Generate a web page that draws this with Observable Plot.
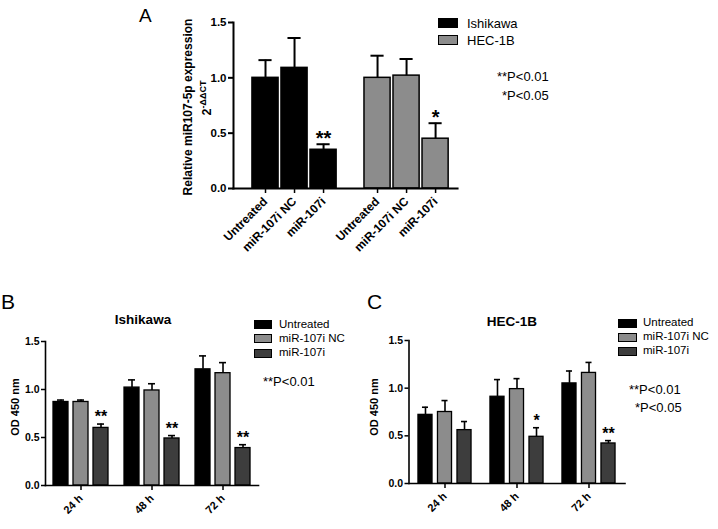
<!DOCTYPE html>
<html><head><meta charset="utf-8">
<script src="https://cdn.jsdelivr.net/npm/d3@7"></script>
<script src="https://cdn.jsdelivr.net/npm/@observablehq/plot@0.6"></script>
<style>
body{margin:0;background:#fff;}
#fig{position:relative;width:718px;height:529px;overflow:hidden;font-family:"Liberation Sans",Arial,sans-serif;color:#000;background:#fff;}
.t{position:absolute;white-space:nowrap;line-height:1;transform:translateY(-50%);}
.rot{position:absolute;white-space:nowrap;line-height:1;transform:translate(-50%,-50%) rotate(-90deg);}
.sw{position:absolute;box-sizing:border-box;border:1.5px solid #000;}
.pan{position:absolute;}
</style></head><body><div id="fig"></div>
<script>
// ---------- data ----------
const treatments = ["Untreated", "miR-107i NC", "miR-107i"];
const cellLines = ["Ishikawa", "HEC-1B"];
const times = ["24 h", "48 h", "72 h"];

// Panel A: relative miR107-5p expression
const ishikawaRelMean = [1.00, 1.09, 0.35];
const ishikawaRelErr  = [0.16, 0.27, 0.05];
const ishikawaRelSig  = ["", "", "**"];
const hec1bRelMean = [1.00, 1.02, 0.45];
const hec1bRelErr  = [0.20, 0.15, 0.14];
const hec1bRelSig  = ["", "", "*"];

// Panel B: Ishikawa OD 450 nm (per time point)
const ishUntreatedMean = [0.87, 1.02, 1.21];
const ishUntreatedErr  = [0.02, 0.08, 0.14];
const ishNCMean = [0.87, 0.99, 1.17];
const ishNCErr  = [0.02, 0.07, 0.11];
const ishMiRMean = [0.60, 0.49, 0.39];
const ishMiRErr  = [0.04, 0.03, 0.035];
const ishMiRSig  = ["**", "**", "**"];

// Panel C: HEC-1B OD 450 nm
const hecUntreatedMean = [0.72, 0.91, 1.05];
const hecUntreatedErr  = [0.08, 0.18, 0.13];
const hecNCMean = [0.75, 0.99, 1.16];
const hecNCErr  = [0.12, 0.11, 0.11];
const hecMiRMean = [0.56, 0.49, 0.42];
const hecMiRErr  = [0.09, 0.095, 0.03];
const hecMiRSig  = ["", "*", "**"];

const yTicks = [0, 0.5, 1.0, 1.5];
const pNotes2 = ["**P<0.01", "*P<0.05"];
const pNotes1 = ["**P<0.01"];

// ---------- build ----------
const fig = document.getElementById("fig");
const font = '"Liberation Sans", Arial, sans-serif';
const treatColors = ["#000000", "#8c8c8c", "#3d3d3d"];
const lineColors = ["#000000", "#8c8c8c"];

function place(node, left, top) {
  const d = document.createElement("div");
  d.className = "pan";
  d.style.left = left + "px"; d.style.top = top + "px";
  d.appendChild(node); fig.appendChild(d);
}
function text(str, left, cy, size, weight) {
  const d = document.createElement("div");
  d.className = "t";
  d.style.left = left + "px"; d.style.top = cy + "px";
  d.style.fontSize = size + "px"; d.style.fontWeight = weight || "normal";
  d.textContent = str; fig.appendChild(d); return d;
}
function ctext(str, cx, cy, size, weight) {
  const d = text(str, cx, cy, size, weight);
  d.style.transform = "translate(-50%,-50%)"; return d;
}
function rtext(html, cx, cy, size, weight) {
  const d = document.createElement("div");
  d.className = "rot";
  d.style.left = cx + "px"; d.style.top = cy + "px";
  d.style.fontSize = size + "px"; d.style.fontWeight = weight || "normal";
  d.innerHTML = html; fig.appendChild(d); return d;
}
function swatch(left, top, w, h, color) {
  const d = document.createElement("div");
  d.className = "sw";
  d.style.left = left + "px"; d.style.top = top + "px";
  d.style.width = w + "px"; d.style.height = h + "px";
  d.style.background = color; fig.appendChild(d);
}

// Panel A rows
const relMeans = [ishikawaRelMean, hec1bRelMean];
const relErrs = [ishikawaRelErr, hec1bRelErr];
const relSigs = [ishikawaRelSig, hec1bRelSig];
const rowsA = cellLines.flatMap((line, li) => treatments.map((treat, i) => ({
  line, treat, mean: relMeans[li][i], err: relErrs[li][i], sig: relSigs[li][i]
})));

const plotA = Plot.plot({
  width: 500, height: 300,
  marginLeft: 233, marginRight: 10, marginTop: 22, marginBottom: 112,
  style: {background: "transparent", overflow: "visible", fontFamily: font, color: "#000"},
  fx: {domain: cellLines, paddingInner: 0, paddingOuter: 0.147, align: 0, round: false, axis: null, label: null},
  x: {domain: treatments, paddingInner: 0.1, paddingOuter: 0.48, align: 0.68, round: false, label: null},
  y: {domain: [0, 1.5], label: null},
  color: {domain: cellLines, range: lineColors},
  marks: [
    Plot.barY(rowsA, {fx: "line", x: "treat", y: "mean", fill: "line", stroke: "#000", strokeWidth: 1.5}),
    Plot.ruleX(rowsA, {fx: "line", x: "treat", y1: "mean", y2: d => d.mean + d.err, stroke: "#000", strokeWidth: 2}),
    Plot.tickY(rowsA, {fx: "line", x: "treat", y: d => d.mean + d.err, stroke: "#000", strokeWidth: 2, insetLeft: 6.5, insetRight: 6.5}),
    Plot.text(rowsA, {fx: "line", x: "treat", y: d => d.mean + d.err, text: "sig", lineAnchor: "bottom", dy: 1, fontSize: 20, fontWeight: "bold", fill: "#000"}),
    Plot.axisY({ticks: yTicks, tickFormat: d3.format(".1f"), tickSize: 5, tickPadding: 2, fontSize: 11.5, fontWeight: "bold", strokeWidth: 2, label: null}),
    Plot.axisX({tickRotate: -45, tickSize: 5, tickPadding: 6, fontSize: 12, fontWeight: "bold", strokeWidth: 1.5, label: null}),
    Plot.frame({anchor: "left", facet: "super", strokeWidth: 2}),
    Plot.frame({anchor: "bottom", facet: "super", strokeWidth: 2})
  ]
});
place(plotA, 0, 0);

function odRows(means, errs, sigs) {
  return times.flatMap((time, ti) => treatments.map((treat, i) => ({
    time, treat, mean: means[i][ti], err: errs[i][ti], sig: i === 2 ? sigs[ti] : ""
  })));
}
const rowsB = odRows([ishUntreatedMean, ishNCMean, ishMiRMean], [ishUntreatedErr, ishNCErr, ishMiRErr], ishMiRSig);
const rowsC = odRows([hecUntreatedMean, hecNCMean, hecMiRMean], [hecUntreatedErr, hecNCErr, hecMiRErr], hecMiRSig);

function odPlot(rows, o) {
  return Plot.plot({
    width: o.width, height: 229,
    marginLeft: o.ml, marginRight: o.mr, marginTop: o.mt, marginBottom: o.mb,
    style: {background: "transparent", overflow: "visible", fontFamily: font, color: "#000"},
    fx: {domain: times, paddingInner: 0, paddingOuter: o.fxpo, align: 0, round: false, label: null},
    x: {domain: treatments, paddingInner: o.xpi, paddingOuter: o.xpo, round: false, axis: null},
    y: {domain: [0, 1.5], label: null},
    color: {domain: treatments, range: treatColors},
    marks: [
      Plot.barY(rows, {fx: "time", x: "treat", y: "mean", fill: "treat", stroke: "#000", strokeWidth: 1.3}),
      Plot.ruleX(rows, {fx: "time", x: "treat", y1: "mean", y2: d => d.mean + d.err, stroke: "#000", strokeWidth: 1.6}),
      Plot.tickY(rows, {fx: "time", x: "treat", y: d => d.mean + d.err, stroke: "#000", strokeWidth: 1.6, insetLeft: 4, insetRight: 4}),
      Plot.text(rows, {fx: "time", x: "treat", y: d => d.mean + d.err, text: "sig", lineAnchor: "bottom", dy: -2, fontSize: 16, fontWeight: "bold", fill: "#000"}),
      Plot.axisY({ticks: yTicks, tickFormat: d3.format(".1f"), tickSize: 4, tickPadding: 2, fontSize: 10.5, fontWeight: "bold", strokeWidth: 1.5, label: null}),
      Plot.axisFx({anchor: "bottom", tickRotate: -45, tickSize: 5, tickPadding: 6, fontSize: 11, fontWeight: "bold", strokeWidth: 1.5, label: null}),
      Plot.frame({anchor: "left", facet: "super", strokeWidth: 1.6}),
      Plot.frame({anchor: "bottom", facet: "super", strokeWidth: 1.6})
    ]
  });
}
place(odPlot(rowsB, {width: 360, ml: 45, mr: 100, mt: 41, mb: 44, fxpo: 0.014, xpi: 0.25, xpo: 0.4}), 0, 300);
place(odPlot(rowsC, {width: 358, ml: 48.5, mr: 91, mt: 40, mb: 46, fxpo: 0.0174, xpi: 0.28, xpo: 0.485}), 360, 300);

// ---------- text & legends ----------
text("A", 139, 15, 19);
text("B", 1, 301, 21);
text("C", 367, 301, 21);

rtext("Relative miR107-5p expression", 187.5, 107, 12, "bold");
rtext('2<sup style="font-size:9px;vertical-align:5px">-ΔΔCT</sup>', 206, 98, 12.5, "bold");

cellLines.forEach((name, i) => {
  swatch(438, 18 + i * 17, 20, 10, lineColors[i]);
  text(name, 467, 23 + i * 17, 13);
});
pNotes2.forEach((s, i) => text(s, 497 + i * 5, 76 + i * 19, 13));

ctext("Ishikawa", 143, 320, 13.5, "bold");
rtext("OD 450 nm", 15, 407, 11, "bold");
treatments.forEach((name, i) => {
  swatch(254, 320 + i * 14.3, 18, 9, treatColors[i]);
  text(name, 279, 324.5 + i * 14.3, 11.5);
});
pNotes1.forEach((s, i) => text(s, 263, 381, 13));

ctext("HEC-1B", 512, 322, 13.5, "bold");
rtext("OD 450 nm", 374, 407, 11, "bold");
treatments.forEach((name, i) => {
  swatch(618, 319 + i * 14, 19, 9, treatColors[i]);
  text(name, 643, 323 + i * 14, 11.5);
});
pNotes2.forEach((s, i) => text(s, 629 + i * 6, 389 + i * 18, 13));
</script></body></html>
